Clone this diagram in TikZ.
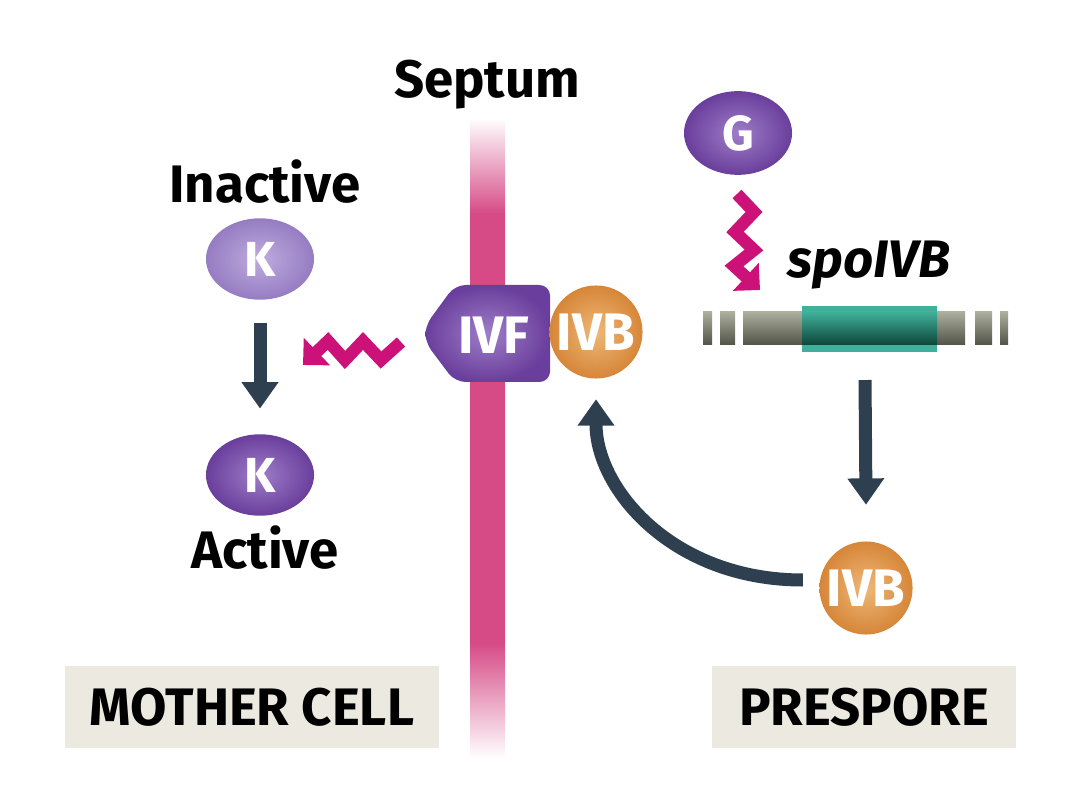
\documentclass[tikz,border=0pt]{standalone}
\usepackage{fontspec}
\setmainfont{Fira Sans}
\usetikzlibrary{arrows.meta,shapes.geometric,positioning}
\definecolor{septpink}{RGB}{214,74,134}
\definecolor{zzpink}{RGB}{204,18,120}
\definecolor{arrowdk}{RGB}{46,64,80}
\definecolor{purpdk}{RGB}{106,62,156}
\definecolor{purphi}{RGB}{158,126,200}
\definecolor{purplt}{RGB}{150,124,194}
\definecolor{purplthi}{RGB}{190,172,222}
\definecolor{orng}{RGB}{214,134,56}
\definecolor{orngl}{RGB}{238,184,120}
\definecolor{labbox}{RGB}{236,234,224}
\definecolor{genetop}{RGB}{172,175,156}
\definecolor{genemid}{RGB}{212,214,200}
\definecolor{genebot}{RGB}{80,83,70}
\definecolor{teal}{RGB}{64,176,154}
\definecolor{tealdk}{RGB}{12,70,56}
\pgfdeclareverticalshading{septfade}{100bp}{color(0bp)=(white); color(25bp)=(white);
  color(34bp)=(septpink); color(67.5bp)=(septpink); color(75bp)=(white); color(100bp)=(white)}
\tikzset{
  lab/.style={font=\bfseries\fontsize{15}{17}\selectfont},
  prot/.style={ellipse, minimum width=1.08cm, minimum height=0.76cm, text=white,
    font=\bfseries\fontsize{14}{16}\selectfont},
  orngball/.style={circle, minimum size=0.93cm, inner color=orngl, outer color=orng,
    text=white, font=\bfseries\fontsize{15}{17}\selectfont, inner sep=0pt},
  darrow/.style={draw=arrowdk, line width=3.7pt, -{Triangle[width=10pt,length=7.5pt]}},
  zz/.style={draw=zzpink, line width=3.5pt, line join=miter, -{Triangle[width=10.5pt,length=5.5pt]}},
  cellbox/.style={fill=labbox, minimum width=3.73cm, minimum height=0.82cm,
    font=\bfseries\fontsize{15}{17}\selectfont}
}
\begin{document}
\begin{tikzpicture}[x=0.01cm, y=-0.01cm]
\useasboundingbox (0,0) rectangle (1080,810);
% septum
\shade[shading=septfade] (470,118) rectangle (505,758);
\node[lab] (septum) at (487,85) {Septum};

% mother cell side
\node[lab] (inact) at (265,182) {Inactive};
\node[prot, inner color=purplthi, outer color=purplt] (kin) at (260,259) {K};
\node[prot, inner color=purphi, outer color=purpdk] (kact) at (260,475) {K};
\node[lab] (act) at (265,548) {Active};
\draw[darrow] ([yshift=-0.23cm]kin.south) -- ([yshift=0.25cm]kact.north);

% IVF / IVB in the septum
\shade[inner color=purphi, outer color=purpdk, rounded corners=3pt]
  (455,285) -- (550,285) -- (550,382) -- (455,382) -- (425,342) -- (425,326) -- cycle;
\node[text=white, font=\bfseries\fontsize{15}{17}\selectfont] (ivf) at (494,335) {IVF};
\node[orngball] (ivbsep) at (596,332) {IVB};

% signal IVF -> K
\coordinate (zzstart) at (401,342);
\draw[zz] (zzstart) -- (381,360) -- (363,341) -- (345,360) -- (328,341) -- (303,365);

% prespore side
\node[prot, inner color=purphi, outer color=purpdk] (g) at (738,133) {G};
\coordinate (gtop) at (737,194);
\draw[zz] (gtop) -- (754,212) -- (735,232) -- (754,250) -- (734,266) -- (760,290);
\node[font=\bfseries\itshape\fontsize{15}{17}\selectfont] (spo) at (869,265) {spoIVB};

% gene
\foreach \xa/\xb in {703/712, 720/735, 743/965, 975/992, 1000/1008}
  \shade[top color=genetop, middle color=genemid, bottom color=genebot] (\xa,312) rectangle (\xb,345);
\fill[teal] (802,306) rectangle (937,352);
\shade[top color=teal, bottom color=tealdk] (802,312) rectangle (937,345);
\coordinate (gene) at (865,345);

\node[orngball] (ivbpre) at (866,588) {IVB};
\draw[darrow] ([yshift=-0.35cm]gene) -- ([yshift=0.36cm]ivbpre.north);
\draw[darrow] ([xshift=-0.16cm,yshift=0.08cm]ivbpre.west)
  .. controls +(-130,0) and +(0,90) .. ([yshift=-0.2cm]ivbsep.south);

% cell labels
\node[cellbox] (mother) at (252,707) {MOTHER CELL};
\node[cellbox, minimum width=3.03cm] (prespore) at (864,707) {PRESPORE};
\end{tikzpicture}
\end{document}
